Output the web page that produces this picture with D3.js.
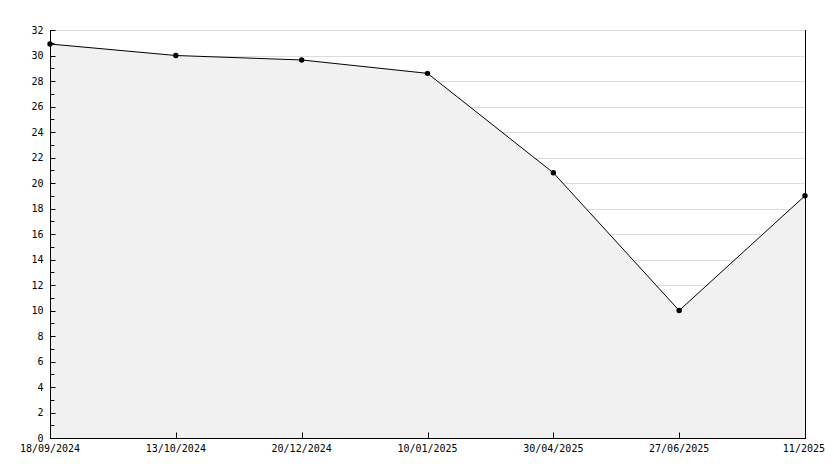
<!DOCTYPE html>
<html>
<head>
<meta charset="utf-8">
<script src="https://cdn.jsdelivr.net/npm/d3@7"></script>
<style>
  body { margin: 0; background: #fff; }
  text { font-family: "DejaVu Sans Mono", monospace; font-size: 10px; fill: #000; }
</style>
</head>
<body>
<div id="chart"></div>
<script>
// data
const dates = ['18/09/2024', '13/10/2024', '20/12/2024', '10/01/2025', '30/04/2025', '27/06/2025', '11/2025'];
const values = [30.9, 30.0, 29.65, 28.6, 20.8, 10.0, 19.0];
const yTicks = d3.range(0, 33, 2);

const svgWidth = 834;
const svgHeight = 468;
const margin = { top: 30, right: 29, bottom: 30, left: 50 };
const width = svgWidth - margin.left - margin.right;
const height = svgHeight - margin.top - margin.bottom;

const data = dates.map((d, i) => ({ date: d, value: values[i] }));

const svg = d3.select('#chart')
    .append('svg')
    .attr('width', svgWidth)
    .attr('height', svgHeight)
    .append('g')
    .attr('transform', `translate(${margin.left},${margin.top})`);

const xScale = d3.scalePoint()
    .domain(dates)
    .range([0, width]);

const yScale = d3.scaleLinear()
    .domain([0, 32])
    .range([height, 0]);

// grid lines
svg.append('g')
    .selectAll('line')
    .data(yTicks.filter(t => t > 0))
    .enter()
    .append('line')
    .attr('x1', 0)
    .attr('x2', width)
    .attr('y1', d => Math.round(yScale(d)) + 0.5)
    .attr('y2', d => Math.round(yScale(d)) + 0.5)
    .attr('stroke', '#dcdcdc');

// area under the line
const area = d3.area()
    .x(d => xScale(d.date))
    .y0(yScale(0))
    .y1(d => yScale(d.value));

svg.append('path')
    .datum(data)
    .attr('d', area)
    .attr('fill', '#f1f1f1');

const line = d3.line()
    .x(d => xScale(d.date))
    .y(d => yScale(d.value));

svg.append('path')
    .datum(data)
    .attr('d', line)
    .attr('fill', 'none')
    .attr('stroke', '#000')
    .attr('stroke-width', 1);

// markers
svg.append('g')
    .selectAll('circle')
    .data(data)
    .enter()
    .append('circle')
    .attr('cx', d => xScale(d.date))
    .attr('cy', d => yScale(d.value))
    .attr('r', 2.7)
    .attr('fill', '#000');

// right border
svg.append('line')
    .attr('x1', width + 0.5)
    .attr('x2', width + 0.5)
    .attr('y1', 0)
    .attr('y2', height)
    .attr('stroke', '#000');

// left axis: labels every 2, ticks every 1, pointing inward
const yAxis = svg.append('g')
    .attr('transform', 'translate(0.5,0)');
yAxis.append('line')
    .attr('y1', 0)
    .attr('y2', height)
    .attr('stroke', '#000');
yAxis.selectAll('.tk')
    .data(d3.range(0, 33))
    .enter()
    .append('line')
    .attr('x1', 0)
    .attr('x2', d => d % 2 === 0 ? 5 : 4)
    .attr('y1', d => Math.round(yScale(d)) + 0.5)
    .attr('y2', d => Math.round(yScale(d)) + 0.5)
    .attr('stroke', '#000');
yAxis.selectAll('text')
    .data(yTicks)
    .enter()
    .append('text')
    .attr('x', -7)
    .attr('y', d => yScale(d))
    .attr('dy', '0.35em')
    .attr('text-anchor', 'end')
    .text(d => d);

// bottom axis
const xAxis = svg.append('g')
    .attr('transform', `translate(0,${height + 0.5})`);
xAxis.append('line')
    .attr('x1', 0)
    .attr('x2', width + 1)
    .attr('stroke', '#000');
xAxis.selectAll('line.tk')
    .data(dates)
    .enter()
    .append('line')
    .attr('class', 'tk')
    .attr('x1', d => Math.round(xScale(d)) + 0.5)
    .attr('x2', d => Math.round(xScale(d)) + 0.5)
    .attr('y1', 0)
    .attr('y2', -6)
    .attr('stroke', '#000');
xAxis.selectAll('text')
    .data(dates)
    .enter()
    .append('text')
    .attr('x', (d, i) => i === dates.length - 1 ? xScale(d) + 20 : xScale(d))
    .attr('y', 13)
    .attr('text-anchor', (d, i) => i === dates.length - 1 ? 'end' : 'middle')
    .text(d => d);
</script>
</body>
</html>
